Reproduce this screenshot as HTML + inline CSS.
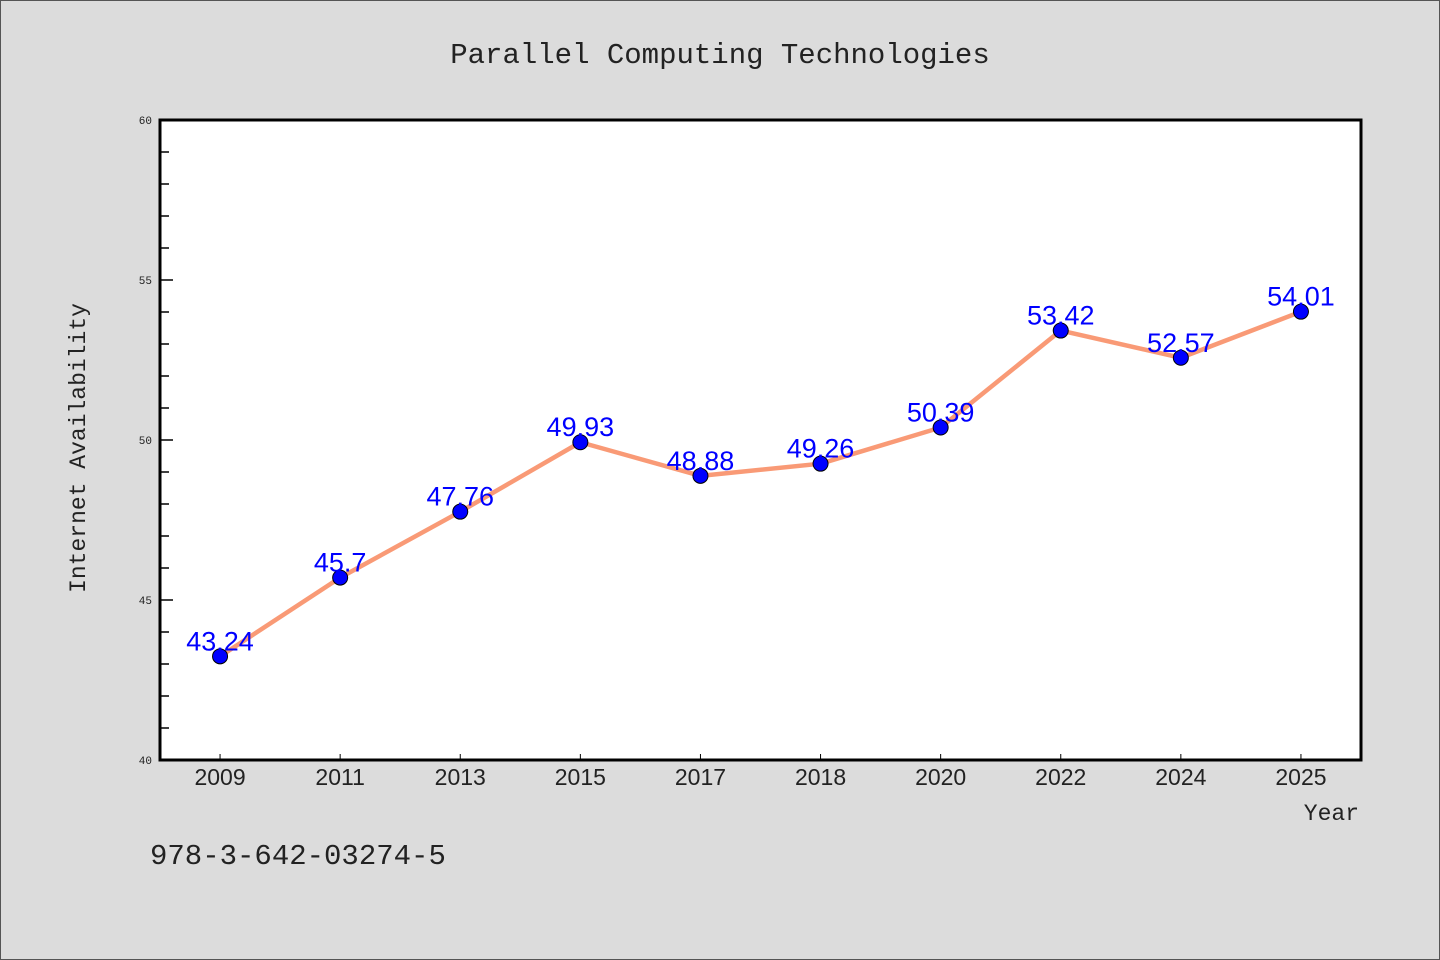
<!DOCTYPE html>
<html><head><meta charset="utf-8"><style>
body{margin:0;background:#dcdcdc;}
svg{display:block;font-family:"Liberation Mono","DejaVu Sans Mono",monospace;}
</style></head><body>
<svg id="c" width="1440" height="960">
<rect x="0.5" y="0.5" width="1439" height="959" fill="#dcdcdc" stroke="#555"/>
<text x="720" y="63" text-anchor="middle" font-size="29" fill="#222">Parallel Computing Technologies</text>
<rect x="160" y="120" width="1201" height="640" fill="#fff" stroke="#000" stroke-width="3"/>
<g id="ticks"></g><g id="series"></g>
<text x="85" y="448" transform="rotate(-90 85 448)" text-anchor="middle" font-size="23" fill="#222">Internet Availability</text>
<text x="1359" y="820" text-anchor="end" font-size="23" fill="#222">Year</text>
<text x="150" y="864" font-size="29" fill="#222">978-3-642-03274-5</text>
</svg>
<script>
const categories=["2009","2011","2013","2015","2017","2018","2020","2022","2024","2025"];
const values=[43.24,45.7,47.76,49.93,48.88,49.26,50.39,53.42,52.57,54.01];
const labels=["43.24","45.7","47.76","49.93","48.88","49.26","50.39","53.42","52.57","54.01"];
const yTicks=[40,45,50,55,60];
const L=160,R=1361,T=120,B=760,ymin=40,ymax=60;
const NS="http://www.w3.org/2000/svg";
const xs=i=>L+(R-L)/categories.length*(i+0.5);
const ys=v=>B-(v-ymin)/(ymax-ymin)*(B-T);
function mk(t,a,p){const e=document.createElementNS(NS,t);for(const k in a)e.setAttribute(k,a[k]);p.appendChild(e);return e;}
const tg=document.getElementById('ticks'),sg=document.getElementById('series');
for(let v=ymin+1;v<ymax;v++){
 const major=yTicks.includes(v);
 const l=mk('line',{x1:L,x2:L+(major?13:9),y1:ys(v),y2:ys(v),stroke:'#000','stroke-width':1.5},tg);
 
 
}
yTicks.forEach(v=>{
 const t=mk('text',{x:152,y:ys(v)+4,'text-anchor':'end','font-size':11,fill:'#222'},tg);t.textContent=v;
 
 
});
categories.forEach((c,i)=>{
 const l=mk('line',{x1:xs(i),x2:xs(i),y1:B,y2:B-6,stroke:'#000','stroke-width':1},tg);
 
 
 const t=mk('text',{x:xs(i),y:785,'text-anchor':'middle','font-size':23,fill:'#222','font-family':'Liberation Sans, sans-serif'},tg);t.textContent=c;
 
 
});
const pl=mk('polyline',{points:values.map((v,i)=>xs(i)+','+ys(v)).join(' '),fill:'none',stroke:'#f99a76','stroke-width':4.5,'stroke-linejoin':'round'},sg);


values.forEach((v,i)=>{
 const c=mk('circle',{cx:xs(i),cy:ys(v),r:7.5,fill:'#0000ff',stroke:'#000','stroke-width':1},sg);
 
 
 const t=mk('text',{x:xs(i),y:ys(v)-6,'text-anchor':'middle','font-size':27,fill:'#0000ff','font-family':'Liberation Sans, sans-serif'},sg);t.textContent=labels[i];
 
 
});
</script>
</body></html>
